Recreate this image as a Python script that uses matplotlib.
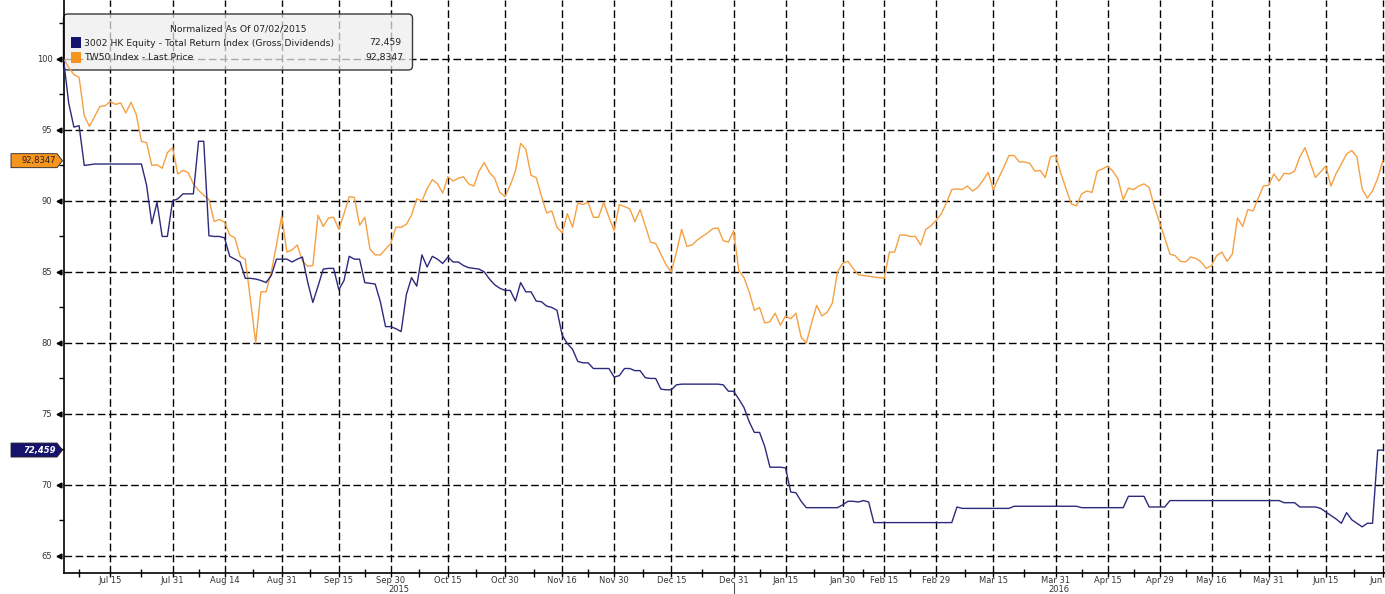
import numpy as np
import matplotlib
matplotlib.use("Agg")
import matplotlib.pyplot as plt
import matplotlib.transforms as mtransforms
from matplotlib.patches import FancyBboxPatch, Polygon, Rectangle

# ---------------- data (trading-day index 0 = 2015-07-02) ----------------
hk_values = [
    100.0, 96.9, 95.2, 95.3, 92.5, 92.55, 92.6, 92.6, 92.6, 92.6,
    92.6, 92.6, 92.6, 92.6, 92.6, 92.6, 91.1, 88.4, 89.9, 87.5,
    87.5, 90.0, 90.15, 90.5, 90.5, 90.5, 94.2, 94.2, 87.55, 87.5,
    87.5, 87.4, 86.1, 85.9, 85.7, 84.55, 84.55, 84.5, 84.4, 84.25,
    84.75, 85.9, 85.9, 85.9, 85.7, 85.9, 86.05, 84.3, 82.85, 84.0,
    85.2, 85.25, 85.25, 83.75, 84.4, 86.1, 85.9, 85.9, 84.25, 84.2,
    84.15, 82.9, 81.15, 81.15, 81.0, 80.8, 83.4, 84.6, 84.0, 86.2,
    85.35, 86.1, 85.9, 85.6, 86.05, 85.7, 85.7, 85.45, 85.3, 85.25,
    85.2, 85.0, 84.5, 84.1, 83.85, 83.7, 83.7, 82.95, 84.25, 83.6,
    83.6, 82.95, 82.9, 82.6, 82.5, 82.3, 80.55, 79.95, 79.55, 78.7,
    78.6, 78.6, 78.2, 78.2, 78.2, 78.2, 77.6, 77.7, 78.2, 78.2,
    78.05, 78.05, 77.55, 77.5, 77.5, 76.75, 76.7, 76.7, 77.05, 77.1,
    77.1, 77.1, 77.1, 77.1, 77.1, 77.1, 77.1, 77.05, 76.6, 76.6,
    76.05, 75.45, 74.45, 73.7, 73.7, 72.7, 71.25, 71.25, 71.25, 71.2,
    69.5, 69.45, 68.85, 68.4, 68.4, 68.4, 68.4, 68.4, 68.4, 68.4,
    68.6, 68.85, 68.85, 68.8, 68.9, 68.8, 67.35, 67.35, 67.35, 67.35,
    67.35, 67.35, 67.35, 67.35, 67.35, 67.35, 67.35, 67.35, 67.35, 67.35,
    67.35, 67.35, 68.45, 68.35, 68.35, 68.35, 68.35, 68.35, 68.35, 68.35,
    68.35, 68.35, 68.35, 68.5, 68.5, 68.5, 68.5, 68.5, 68.5, 68.5,
    68.5, 68.5, 68.5, 68.5, 68.5, 68.5, 68.4, 68.4, 68.4, 68.4,
    68.4, 68.4, 68.4, 68.4, 68.4, 69.2, 69.2, 69.2, 69.2, 68.45,
    68.45, 68.45, 68.45, 68.9, 68.9, 68.9, 68.9, 68.9, 68.9, 68.9,
    68.9, 68.9, 68.9, 68.9, 68.9, 68.9, 68.9, 68.9, 68.9, 68.9,
    68.9, 68.9, 68.9, 68.9, 68.9, 68.75, 68.75, 68.75, 68.45, 68.45,
    68.45, 68.45, 68.35, 68.1, 67.85, 67.6, 67.3, 68.05, 67.55, 67.3,
    67.05, 67.3, 67.3, 72.45, 72.459,
]

tw_values = [
    100.0, 99.4, 98.9, 98.7, 96.0, 95.25, 95.95, 96.65, 96.7, 97.0,
    96.8, 96.9, 96.2, 96.95, 96.1, 94.2, 94.1, 92.5, 92.55, 92.3,
    93.4, 93.75, 91.9, 92.15, 92.0, 91.2, 90.75, 90.4, 90.1, 88.55,
    88.7, 88.5, 87.6, 87.4, 86.1, 85.9, 83.0, 80.0, 83.6, 83.6,
    85.0, 86.9, 88.95, 86.4, 86.55, 86.9, 85.75, 85.4, 85.45, 89.0,
    88.2, 88.8, 88.85, 88.0, 89.1, 90.3, 90.25, 88.3, 88.85, 86.6,
    86.2, 86.2, 86.6, 87.0, 88.15, 88.15, 88.35, 89.0, 90.15, 90.0,
    90.85, 91.5, 91.2, 90.55, 91.7, 91.4, 91.6, 91.7, 91.2, 91.05,
    92.1, 92.7, 92.0, 91.6, 90.6, 90.3, 91.1, 92.1, 94.05, 93.65,
    91.8, 91.65, 90.35, 89.15, 89.3, 88.15, 87.75, 89.1, 88.15, 89.85,
    89.75, 89.9, 88.85, 88.85, 89.9, 88.85, 87.9, 89.75, 89.6, 89.45,
    88.55, 89.4, 88.25, 87.1, 87.0, 86.25, 85.5, 85.0, 86.4, 88.0,
    86.8, 86.9, 87.25, 87.5, 87.75, 88.05, 88.1, 87.2, 87.1, 87.9,
    85.1, 84.6, 83.6, 82.3, 82.5, 81.4, 81.5, 82.1, 81.25, 81.9,
    81.7, 82.1, 80.4, 80.0, 81.4, 82.65, 81.9, 82.15, 82.8, 85.0,
    85.6, 85.75, 85.25, 84.8, 84.75, 84.7, 84.65, 84.6, 84.55, 86.4,
    86.4, 87.6, 87.6, 87.5, 87.5, 86.9, 88.0, 88.25, 88.65, 89.1,
    89.9, 90.8, 90.85, 90.8, 91.05, 90.7, 90.95, 91.45, 92.0, 90.8,
    91.6, 92.35, 93.2, 93.2, 92.75, 92.75, 92.65, 92.1, 92.15, 91.65,
    93.1, 93.2, 91.95, 90.85, 89.8, 89.65, 90.5, 90.7, 90.6, 92.1,
    92.25, 92.45, 92.1, 91.55, 90.1, 90.9, 90.8, 91.05, 91.2, 90.95,
    89.6, 88.5, 87.4, 86.25, 86.15, 85.75, 85.7, 86.05, 85.95, 85.7,
    85.25, 85.45, 86.15, 86.4, 85.75, 86.25, 88.8, 88.2, 89.4, 89.3,
    90.2, 91.05, 91.1, 91.9, 91.4, 91.95, 91.9, 92.1, 93.1, 93.75,
    92.7, 91.65, 92.05, 92.45, 91.05, 91.95, 92.6, 93.3, 93.55, 93.1,
    90.85, 90.2, 90.7, 91.6, 92.8347,
]

tick_days = [9, 21, 31, 42, 53, 63, 74, 85, 96, 106, 117, 129, 139, 150,
             158, 168, 179, 191, 201, 211, 221, 232, 243, 254]
tick_labels = ["Jul 15", "Jul 31", "Aug 14", "Aug 31", "Sep 15", "Sep 30",
               "Oct 15", "Oct 30", "Nov 16", "Nov 30", "Dec 15", "Dec 31",
               "Jan 15", "Jan 30", "Feb 15", "Feb 29", "Mar 15", "Mar 31",
               "Apr 15", "Apr 29", "May 16", "May 31", "Jun 15", "Jun 30"]
year_labels = ["2015", "2016"]
year_break_day = 129

y_major = [65, 70, 75, 80, 85, 90, 95, 100]
y_minor = [67.5, 72.5, 77.5, 82.5, 87.5, 92.5, 97.5, 102.5]

legend_title = "Normalized As Of 07/02/2015"
hk_label = "3002 HK Equity - Total Return Index (Gross Dividends)"
tw_label = "TW50 Index - Last Price"
hk_last_text = "72,459"
tw_last_text = "92,8347"

# ---------------- styling ----------------
NAVY_LINE = "#2c2a7c"
NAVY = "#16136c"
ORANGE_LINE = "#f5a043"
ORANGE = "#f7941d"
TXT = "#333333"

W, H = 1385, 594
fig = plt.figure(figsize=(W / 100, H / 100), dpi=100)
fig.patch.set_facecolor("white")
ax = fig.add_axes([63.5 / W, 21 / H, (W - 63.5) / W, 573 / H])
ax.set_xlim(0, 254.4)
ax.set_ylim(63.8, 104.15)

x = np.arange(len(hk_values))
ax.plot(x, tw_values, color=ORANGE_LINE, lw=1.0, zorder=3, solid_joinstyle="round")
ax.plot(x, hk_values, color=NAVY_LINE, lw=1.0, zorder=3, solid_joinstyle="round")

# grid
ax.set_xticks(tick_days)
ax.set_xticklabels(tick_labels)
minor_x = [tick_days[0] - 6] + [(a + b) / 2 for a, b in zip(tick_days[:-1], tick_days[1:])]
ax.set_xticks(minor_x, minor=True)
ax.set_yticks(y_major)
ax.set_yticklabels([str(v) for v in y_major])
ax.set_yticks(y_minor, minor=True)
ax.grid(True, which="major", color="black", linestyle=(0, (5.5, 2.5)), linewidth=1.0)

for s in ["top", "right"]:
    ax.spines[s].set_visible(False)
for s in ["left", "bottom"]:
    ax.spines[s].set_color("black")
    ax.spines[s].set_linewidth(1.2)

ax.tick_params(axis="x", which="major", direction="out", length=3, width=1,
               labelsize=6, labelcolor=TXT, pad=-0.5)
ax.tick_params(axis="x", which="minor", direction="inout", length=6, width=1)
ax.tick_params(axis="y", which="major", length=0, labelsize=6, labelcolor=TXT, pad=8)
ax.tick_params(axis="y", which="minor", direction="out", length=3.5, width=1)

# little arrow heads at y major ticks
tri_trans = mtransforms.blended_transform_factory(ax.transAxes, ax.transData) + \
    mtransforms.ScaledTranslation(-3.0 / 72, 0, fig.dpi_scale_trans)
for v in y_major:
    ax.plot([0], [v], marker="<", ms=3.5, color="black", transform=tri_trans,
            clip_on=False, zorder=4)

# year labels and separator
yr_trans = mtransforms.blended_transform_factory(ax.transData, ax.transAxes)
ax_h = 573.0
xmin, xmax = ax.get_xlim()
ax.text((xmin + year_break_day) / 2, -(589 - 573) / ax_h, year_labels[0], transform=yr_trans,
        ha="center", va="center", fontsize=6, color=TXT)
ax.text((year_break_day + xmax) / 2, -(589 - 573) / ax_h, year_labels[1], transform=yr_trans,
        ha="center", va="center", fontsize=6, color=TXT)
ax.plot([year_break_day, year_break_day], [-(583 - 573) / ax_h, -(594 - 573) / ax_h],
        transform=yr_trans, color="#555555", lw=0.8, clip_on=False)

# ---------------- legend box ----------------
def fx(px):
    return px / W

def fy(py_top):
    return 1 - py_top / H

box = FancyBboxPatch((fx(63.5), fy(70)), fx(412.5) - fx(63.5), fy(14) - fy(70),
                     boxstyle="round,pad=0,rounding_size=0.003",
                     mutation_aspect=W / H,
                     transform=fig.transFigure, facecolor=(0.93, 0.93, 0.93, 0.72),
                     edgecolor="#3a3a3a", linewidth=1.0, clip_on=False, zorder=2.2)
ax.add_patch(box)
fs_leg = 6.7
ax.text(fx(238), fy(28.5), legend_title, transform=fig.transFigure, ha="center",
        va="center", fontsize=fs_leg, color="#222222", zorder=5)
ax.add_patch(Rectangle((fx(70.5), fy(48)), fx(81) - fx(70.5), fy(37) - fy(48),
                       transform=fig.transFigure, facecolor=NAVY, edgecolor="none",
                       clip_on=False, zorder=5))
ax.add_patch(Rectangle((fx(70.5), fy(63)), fx(81) - fx(70.5), fy(52) - fy(63),
                       transform=fig.transFigure, facecolor=ORANGE, edgecolor="none",
                       clip_on=False, zorder=5))
ax.text(fx(84), fy(43), hk_label, transform=fig.transFigure, ha="left", va="center",
        fontsize=fs_leg, color="#222222", zorder=5)
ax.text(fx(401), fy(43), hk_last_text, transform=fig.transFigure, ha="right", va="center",
        fontsize=fs_leg, color="#222222", zorder=5)
ax.text(fx(84), fy(57.5), tw_label, transform=fig.transFigure, ha="left", va="center",
        fontsize=fs_leg, color="#222222", zorder=5)
ax.text(fx(403), fy(57.5), tw_last_text, transform=fig.transFigure, ha="right", va="center",
        fontsize=fs_leg, color="#222222", zorder=5)

# ---------------- last value tags on the left ----------------
def tag(value, text, face, tcolor, italic):
    yc = ax.transData.transform((0, value))[1]  # display px from bottom
    hh = 7.0
    pts = [(11, yc - hh), (57, yc - hh), (62.5, yc), (57, yc + hh), (11, yc + hh)]
    pts = [(px / W, py / H) for px, py in pts]
    poly = Polygon(pts, closed=True, transform=fig.transFigure, facecolor=face,
                   edgecolor="#222222", linewidth=0.6, clip_on=False, zorder=6)
    ax.add_patch(poly)
    ax.text(55.5 / W, yc / H, text, transform=fig.transFigure, ha="right", va="center",
            fontsize=6, color=tcolor, style="italic" if italic else "normal",
            fontweight="bold" if italic else "normal", zorder=7)

tag(tw_values[-1], tw_last_text, ORANGE, "#222222", False)
tag(hk_values[-1], hk_last_text, NAVY, "white", True)

fig.savefig("out.png", dpi=100, facecolor="white")
